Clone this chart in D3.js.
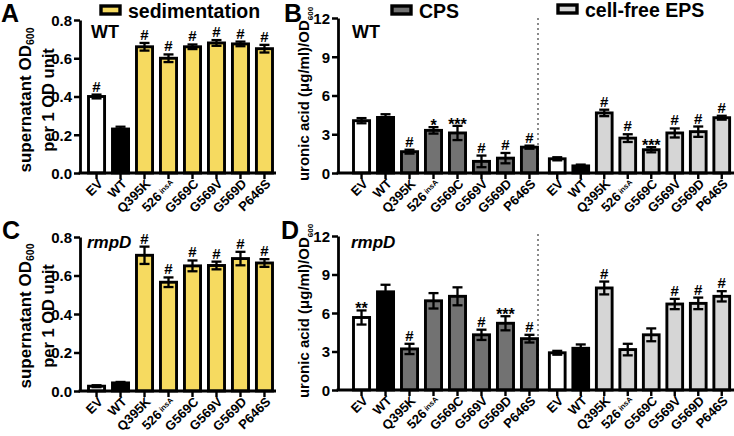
<!DOCTYPE html>
<html><head><meta charset="utf-8">
<script src="https://cdn.jsdelivr.net/npm/d3@7"></script>
<style>
body{margin:0;background:#fff}
svg{display:block}
text{font-family:"Liberation Sans",Arial,Helvetica,sans-serif;font-weight:bold;fill:#000}
</style>
</head><body>
<svg id="c" width="734" height="436"></svg>
<script>
// ---------- data ----------
const strains = ["EV","WT","Q395K","526insA","G569C","G569V","G569D","P646S"];

const sedTicks = [0,0.2,0.4,0.6,0.8];
const uaTicks  = [0,3,6,9,12];

// Panel A: sedimentation, WT background
const sedWT     = [0.40,0.23,0.66,0.60,0.66,0.68,0.675,0.65];
const sedWTErr  = [0.01,0.012,0.02,0.02,0.012,0.015,0.012,0.02];
const sedWTSig  = ["#","","#","#","#","#","#","#"];
// Panel C: sedimentation, rmpD background
const sedRmp    = [0.025,0.042,0.705,0.565,0.65,0.652,0.688,0.665];
const sedRmpErr = [0.005,0.005,0.045,0.025,0.028,0.02,0.035,0.02];
const sedRmpSig = ["","","#","#","#","#","#","#"];
// Panel B: uronic acid, WT background
const cpsWT     = [4.05,4.3,1.65,3.3,3.1,0.9,1.15,2.0];
const cpsWTErr  = [0.2,0.25,0.15,0.25,0.55,0.45,0.4,0.12];
const cpsWTSig  = ["","","#","*","***","#","#","#"];
const epsWT     = [1.1,0.55,4.65,2.7,1.8,3.1,3.2,4.28];
const epsWTErr  = [0.12,0.1,0.25,0.3,0.2,0.35,0.4,0.15];
const epsWTSig  = ["","","#","#","***","#","#","#"];
// Panel D: uronic acid, rmpD background
const cpsRmp    = [5.65,7.65,3.2,6.95,7.3,4.3,5.2,4.0];
const cpsRmpErr = [0.55,0.55,0.4,0.6,0.7,0.4,0.55,0.3];
const cpsRmpSig = ["**","","#","","","#","***","#"];
const epsRmp    = [2.9,3.25,7.95,3.15,4.3,6.7,6.75,7.3];
const epsRmpErr = [0.15,0.3,0.5,0.45,0.5,0.4,0.45,0.4];
const epsRmpSig = ["","","#","","","#","#","#"];

// ---------- styling ----------
const YELLOW = "#f6da60", DARK = "#727272", LIGHT = "#d6d6d6";
const svg = d3.select("#c");

function bandScale(r0, r1){
  return d3.scaleBand().domain(strains).range([r0,r1]).paddingInner(0.33).paddingOuter(0.25);
}
const xA  = bandScale(82.5, 278.5);
const xBc = bandScale(347.5, 543.5);
const xBe = bandScale(543.5, 735.5);

const yA = d3.scaleLinear().domain([0,0.8]).range([173,20]);
const yC = d3.scaleLinear().domain([0,0.8]).range([391,237]);
const yB = d3.scaleLinear().domain([0,12]).range([173,18]);
const yD = d3.scaleLinear().domain([0,12]).range([390,236]);

function yAxis(x0, y, ticks, fmt){
  const g = svg.append("g").attr("transform",`translate(${x0},0)`)
    .call(d3.axisLeft(y).tickValues(ticks).tickSize(6).tickSizeOuter(0).tickFormat(fmt));
  g.select(".domain").attr("stroke","#000").attr("stroke-width",2.8);
  g.selectAll(".tick line").attr("stroke","#000").attr("stroke-width",2.5);
  g.selectAll(".tick text").attr("font-size",15).attr("x",-8).attr("dy","0.36em")
    .style("font-family",'"Liberation Sans",Arial,sans-serif').style("font-weight","bold");
}

function xAxis(x, y0){
  const g = svg.append("g").attr("transform",`translate(0,${y0})`)
    .call(d3.axisBottom(x).tickSize(6).tickSizeOuter(0).tickFormat(""));
  g.select(".domain").remove();
  g.selectAll(".tick line").attr("stroke","#000").attr("stroke-width",2.4);
  g.selectAll(".tick").each(function(d){
    const t = d3.select(this).append("text")
      .attr("transform","translate(7,11.5) rotate(-45)")
      .attr("text-anchor","end").attr("font-size",13);
    if(d === "526insA"){
      t.append("tspan").text("526");
      t.append("tspan").text("insA").attr("font-size",7.5).attr("dy","-0.35em").attr("dx","2");
    } else t.text(d);
  });
}

function baseline(x0, x1, y0){
  svg.append("line").attr("x1",x0-1.4).attr("x2",x1).attr("y1",y0).attr("y2",y0)
    .attr("stroke","#000").attr("stroke-width",2.8);
}

function bars(x, y, vals, errs, sigs, color){
  const fill = i => i===0 ? "#fff" : (i===1 ? "#000" : color);
  const bw = x.bandwidth();
  const g = svg.append("g");
  const data = strains.map((s,i)=>({s,i,v:vals[i],e:errs[i],sig:sigs[i]}));
  g.selectAll("rect").data(data).join("rect")
    .attr("x",d=>x(d.s)).attr("width",bw)
    .attr("y",d=>y(d.v)).attr("height",d=>Math.max(0,y(0)-y(d.v)))
    .attr("fill",d=>fill(d.i)).attr("stroke","#000").attr("stroke-width",2.9);
  const eg = g.selectAll("g.err").data(data).join("g").attr("class","err");
  const cx = d => x(d.s)+bw/2;
  eg.append("line").attr("x1",cx).attr("x2",cx)
    .attr("y1",d=>y(Math.max(0,d.v-d.e))).attr("y2",d=>y(d.v+d.e))
    .attr("stroke","#000").attr("stroke-width",2.3);
  eg.append("line").attr("x1",d=>cx(d)-5).attr("x2",d=>cx(d)+5)
    .attr("y1",d=>y(d.v+d.e)).attr("y2",d=>y(d.v+d.e))
    .attr("stroke","#000").attr("stroke-width",2.3);
  eg.filter(d=>d.i!==1 && d.v-d.e>0).append("line").attr("x1",d=>cx(d)-5).attr("x2",d=>cx(d)+5)
    .attr("y1",d=>y(d.v-d.e)).attr("y2",d=>y(d.v-d.e))
    .attr("stroke","#000").attr("stroke-width",2.3);
  g.selectAll("text.sig").data(data.filter(d=>d.sig)).join("text").attr("class","sig")
    .attr("x",cx).attr("y",d=>y(d.v+d.e) - (d.sig[0]==="*" ? -4 : 3))
    .attr("text-anchor","middle").attr("font-size",d=>d.sig[0]==="*"?16:15)
    .attr("fill",d=>d.sig[0]==="*"?"#222":"#000")
    .text(d=>d.sig);
}

function legend(x0, y0, color, label){
  svg.append("rect").attr("x",x0).attr("y",y0).attr("width",19).attr("height",8)
    .attr("fill",color).attr("stroke","#000").attr("stroke-width",3.4);
  svg.append("text").attr("x",x0+27).attr("y",y0+12).attr("font-size",19.5).text(label);
}

function divider(xp, y0, y1){
  svg.append("line").attr("x1",xp).attr("x2",xp).attr("y1",y0).attr("y2",y1)
    .attr("stroke","#8a8a8a").attr("stroke-width",2).attr("stroke-dasharray","2,3");
}

function sedLabel(cy){
  const t = svg.append("text").attr("transform",`translate(31,${cy}) rotate(-90)`)
    .attr("text-anchor","middle").attr("font-size",17);
  t.append("tspan").text("supernatant OD");
  t.append("tspan").text("600").attr("font-size",10.5).attr("dy","0.3em");
  svg.append("text").attr("transform",`translate(54,${cy}) rotate(-90)`)
    .attr("text-anchor","middle").attr("font-size",16.5).text("per 1 OD unit");
}
function uaLabel(cy){
  const t = svg.append("text").attr("transform",`translate(309,${cy}) rotate(-90)`)
    .attr("text-anchor","middle").attr("font-size",15);
  t.append("tspan").text("uronic acid (\u03bcg/ml)/OD");
  t.append("tspan").text("600").attr("font-size",8).attr("dy","0.5em");
}

// ---------- Panel A ----------
sedLabel(100);
bars(xA, yA, sedWT, sedWTErr, sedWTSig, YELLOW);
yAxis(80, yA, sedTicks, d3.format(".1f"));
baseline(80, 276, 173);
xAxis(xA, 173);
svg.append("text").attr("x",91).attr("y",38).attr("font-size",18).text("WT");

// ---------- Panel B ----------
uaLabel(94);
divider(538, 18, 172);
bars(xBc, yB, cpsWT, cpsWTErr, cpsWTSig, DARK);
bars(xBe, yB, epsWT, epsWTErr, epsWTSig, LIGHT);
yAxis(338, yB, uaTicks, d3.format("d"));
baseline(338, 734, 173);
xAxis(xBc, 173); xAxis(xBe, 173);
svg.append("text").attr("x",352).attr("y",38).attr("font-size",18).text("WT");

// ---------- Panel C ----------
sedLabel(316);
bars(xA, yC, sedRmp, sedRmpErr, sedRmpSig, YELLOW);
yAxis(80, yC, sedTicks, d3.format(".1f"));
baseline(80, 276, 391);
xAxis(xA, 391);
svg.append("text").attr("x",87).attr("y",248).attr("font-size",17).attr("font-style","italic").text("rmpD");

// ---------- Panel D ----------
uaLabel(311);
divider(538, 234, 389);
bars(xBc, yD, cpsRmp, cpsRmpErr, cpsRmpSig, DARK);
bars(xBe, yD, epsRmp, epsRmpErr, epsRmpSig, LIGHT);
yAxis(338, yD, uaTicks, d3.format("d"));
baseline(338, 734, 390);
xAxis(xBc, 390); xAxis(xBe, 390);
svg.append("text").attr("x",351).attr("y",248).attr("font-size",17).attr("font-style","italic").text("rmpD");

// ---------- legends & panel letters ----------
legend(101, 6, YELLOW, "sedimentation");
legend(392, 6, DARK, "CPS");
legend(558, 5, LIGHT, "cell-free EPS");

[["A",1,22],["B",284,22],["C",2,239],["D",281,239]].forEach(([l,x,y])=>{
  svg.append("text").attr("x",x).attr("y",y).attr("font-size",25).text(l);
});
</script>
</body></html>
